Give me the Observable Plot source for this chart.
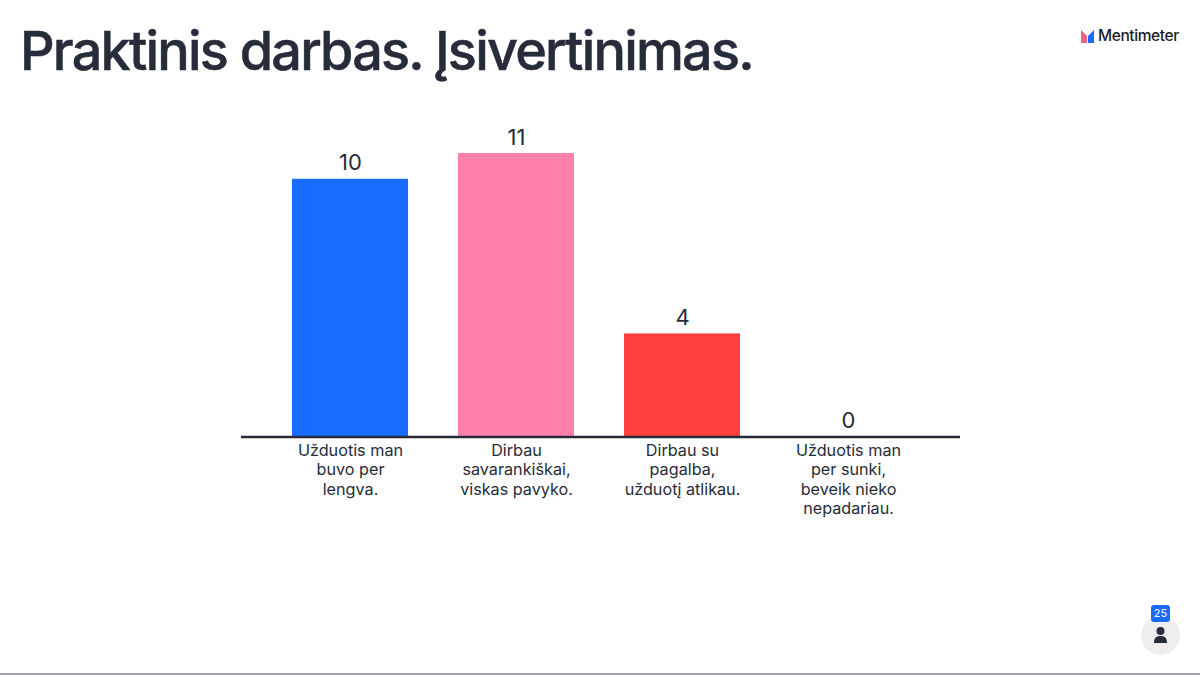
<!DOCTYPE html>
<html lang="lt">
<head>
<meta charset="utf-8">
<script src="https://cdn.jsdelivr.net/npm/d3@7"></script>
<script src="https://cdn.jsdelivr.net/npm/@observablehq/plot@0.6"></script>
<style>
html,body{margin:0;padding:0;background:#fff;width:1200px;height:675px;overflow:hidden;font-family:Inter,sans-serif;color:#272c3a}
#chart{position:absolute;left:0;top:0}
#title{position:absolute;left:20px;top:16px;font:500 54px/70px Inter,sans-serif;letter-spacing:-1.8px;white-space:nowrap;color:#272c3a;-webkit-text-stroke:.5px #272c3a}
#logo{position:absolute;left:1081px;top:28px;display:flex;align-items:center;gap:4px;font:500 15.5px/16px Inter,sans-serif;letter-spacing:-.4px;color:#1b1d26}
#badge{position:absolute;left:1151px;top:605px;width:19px;height:17px;background:#196cff;border-radius:3px;color:#fff;font:11px/17px Inter,sans-serif;text-align:center}
#person{position:absolute;left:1141px;top:616px}
#foot{position:absolute;left:0;top:672.5px;width:1200px;height:2.5px;background:#a3a3ad}
</style>
</head>
<body>
<div id="chart"></div>
<div id="title">Praktinis darbas. Įsivertinimas.</div>
<div id="logo"><svg width="13" height="13" viewBox="0 0 13 13"><path d="M0 0 L6 6 V13 H0Z" fill="#f0607f"/><path d="M13 0 L7 6 V13 H13Z" fill="#196cff"/></svg><span>Mentimeter</span></div>
<svg id="person" width="39" height="39" viewBox="0 0 39 39"><circle cx="19.5" cy="19.5" r="19.5" fill="#eeeef0"/><circle cx="19.5" cy="15" r="4" fill="#272c3a"/><path d="M13 27 C13 21 16 20 19.5 20 C23 20 26 21 26 27 Z" fill="#272c3a"/></svg>
<div id="badge">25</div>
<div id="foot"></div>
<script>
const categories = [
  "Užduotis man\nbuvo per\nlengva.",
  "Dirbau\nsavarankiškai,\nviskas pavyko.",
  "Dirbau su\npagalba,\nužduotį atlikau.",
  "Užduotis man\nper sunki,\nbeveik nieko\nnepadariau."
];
const values = [10, 11, 4, 0];
const colors = ["#196cff", "#ff80ab", "#ff403d", "#c9cbd4"];
const rows = categories.map((category, i) => ({category, value: values[i], color: colors[i]}));

const plot = Plot.plot({
  width: 1200,
  height: 675,
  marginLeft: 241,
  marginRight: 240,
  marginTop: 153,
  marginBottom: 238.5,
  style: {background: "transparent", fontFamily: "Inter, sans-serif", overflow: "visible"},
  x: {domain: categories, paddingInner: 0.3, paddingOuter: 0.309, align: 0.49, label: null},
  y: {domain: [0, 11], axis: null, label: null},
  marks: [
    Plot.barY(rows, {x: "category", y: "value", fill: "color"}),
    Plot.ruleY([0], {stroke: "#272c3a", strokeWidth: 2.5}),
    Plot.text(rows, {x: "category", y: "value", text: d => String(d.value), dy: -16, fontSize: 22, fill: "#272c3a"}),
    Plot.axisX({tickSize: 0, tickPadding: 5, fontSize: 16.2, lineHeight: 1.2, color: "#272c3a", label: null, lineWidth: Infinity})
  ]
});
document.getElementById("chart").append(plot);
</script>
</body>
</html>
